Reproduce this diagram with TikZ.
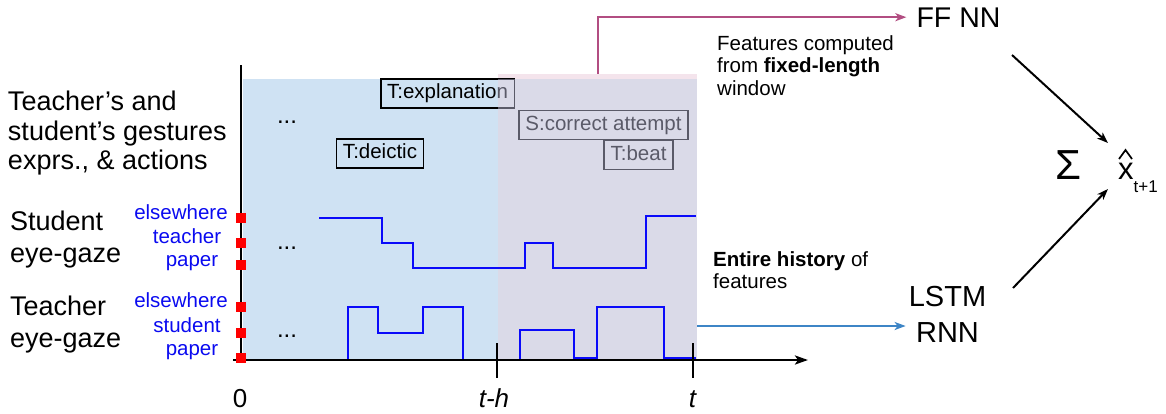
\documentclass[tikz,border=0pt]{standalone}
\usepackage{fontspec}
\setmainfont{Liberation Sans}
\usetikzlibrary{arrows.meta}
\definecolor{bgblue}{RGB}{207,226,243}
\definecolor{winc}{RGB}{181,181,209}
\definecolor{bandpink}{RGB}{244,228,236}
\definecolor{magc}{RGB}{178,78,130}
\definecolor{arrblue}{RGB}{61,133,198}
\definecolor{lblue}{RGB}{10,10,240}
\definecolor{sigblue}{RGB}{10,10,250}
\newcommand{\fsz}[1]{\fontsize{#1}{#1}\selectfont}
\begin{document}
\begin{tikzpicture}[x=1pt,y=-1pt,
  txt/.style={inner sep=0pt, outer sep=0pt, font=\fsz{27}},
  lvl/.style={inner sep=0pt, text=lblue, font=\fsz{20.5}, anchor=base},
  evbox/.style={draw, line width=1.8pt, inner xsep=6.5pt, inner ysep=0pt, minimum height=29pt, font=\fsz{20.5}, text height=14.5pt, text depth=4pt},
  dots/.style={inner sep=0pt, font=\fsz{24}, anchor=base},
  sig/.style={draw=sigblue, line width=2.6pt},
  axis/.style={line width=2.6pt},
  tickm/.style={line width=2pt},
  redsq/.style={fill=red, minimum size=10pt, inner sep=0pt},
  tipst/.style={-{Stealth[length=11pt, width=8pt, inset=3pt]}},
  blk/.style={tipst, line width=2pt},
  mag/.style={tipst, draw=magc, line width=2pt},
  bla/.style={tipst, draw=arrblue, line width=2pt},
  note/.style={inner sep=0pt, font=\fontsize{20.5}{22.7}\selectfont, align=left, anchor=north west},
  ticklab/.style={inner sep=0pt, font=\fsz{26}, anchor=base},
  hatmark/.style={line width=1.7pt, line join=miter}
]
\useasboundingbox (0,0) rectangle (1166,413);

% left labels
\node[txt, anchor=base west] (l1) at (8,110) {Teacher’s and};
\node[txt, anchor=base west] (l2) at (8,140) {student’s gestures};
\node[txt, anchor=base west] (l3) at (8,169) {exprs., \& actions};
\node[txt, anchor=base west] (sg1) at (10,230) {Student};
\node[txt, anchor=base west] (sg2) at (10,262) {eye-gaze};
\node[txt, anchor=base west] (tg1) at (10,315) {Teacher};
\node[txt, anchor=base west] (tg2) at (10,347) {eye-gaze};

% level labels
\node[lvl] (se) at (181,219) {elsewhere};
\node[lvl] (st) at (187,243) {teacher};
\node[lvl] (sp) at (192,266) {paper};
\node[lvl] (te) at (181,307) {elsewhere};
\node[lvl] (ts) at (187,332) {student};
\node[lvl] (tp) at (192,355) {paper};

% regions
\node[fill=bgblue, inner sep=0pt, minimum width=255pt, minimum height=281pt, anchor=north west] (hist) at (243,79) {};
\node[fill=bandpink, inner sep=0pt, minimum width=199pt, minimum height=5pt, anchor=south west] (band) at (498,79) {};

% events
\node[evbox] (expl) at (447.5,93.5) {T:explanation};
\node[evbox] (corr) at (603.5,125) {S:correct attempt};
\node[evbox] (beat) at (638.5,155) {T:beat};
\node[evbox] (deic) at (380,153.5) {T:deictic};
\node[dots] (d1) at (287,123) {...};
\node[dots] (d2) at (287,249) {...};
\node[dots] (d3) at (287,337) {...};

% window overlay
\node[fill=winc, fill opacity=0.5, inner sep=0pt, minimum width=199pt, minimum height=281pt, anchor=north west] (win) at (498,79) {};

% signals
\draw[sig] (319,218) -| (382,243) -| (413,268) -| (525,243) -| (553,268) -| (646,216) -- (696,216);
\draw[sig] (320,360) -| (348,307) -| (378,333) -| (423,307) -| (463,360) -| (520,330) -| (574,358) -| (597,307) -| (664,358) -- (696,358);

% axes
\draw[axis] (241,362) -- (241,65);
\draw[axis, -{Stealth[length=13pt, width=9pt, inset=3pt]}] (233,360) -- (808,360);
\draw[tickm] (497,343) -- (497,378);
\draw[tickm] (693,343) -- (693,378);
\node[ticklab] (t0) at (240,407) {0};
\node[ticklab] (tth) at (494,407) {\textit{t-h}};
\node[ticklab] (tt) at (693,407) {\textit{t}};

% red level marks
\foreach \yy/\nm in {218/r1,243/r2,265/r3,307/r4,333/r5,358/r6}
  \node[redsq] (\nm) at (241,\yy) {};

% right side
\node[inner sep=0pt, font=\fsz{28.5}, anchor=base] (ff) at (958.5,27) {FF NN};
\node[inner sep=3pt, font=\fontsize{29}{36}\selectfont, align=center] (lstm) at (947.5,314) {LSTM\\RNN};
\node[inner sep=0pt, font=\fsz{42}, anchor=base] (sum) at (1068,179) {Σ};
\node[inner sep=0pt, font=\fsz{31}, anchor=base west] (xh) at (1118,179) {x\raisebox{-13pt}{\fsz{17}t+1}};
\draw[hatmark] (1119,159) -- (1125.5,150) -- (1132,159);

\node[note] (fixn) at (717,35) {Features computed\\from \textbf{fixed-length}\\window};
\node[note] (histn) at (713,251) {\textbf{Entire history} of\\features};

\draw[mag, shorten >=10pt] (band.north) |- (ff.west);
\coordinate (winrow) at (win.east |- lstm.west);
\draw[bla] ([yshift=-12pt]winrow) -- ([yshift=-12pt]lstm.west);

\coordinate (ffo) at (1012,55);
\coordinate (lso) at (1013,288);
\coordinate (xin1) at (1108,143);
\coordinate (xin2) at (1108,189);
\draw[blk] (ffo) -- (xin1);
\draw[blk] (lso) -- (xin2);
\end{tikzpicture}
\end{document}
